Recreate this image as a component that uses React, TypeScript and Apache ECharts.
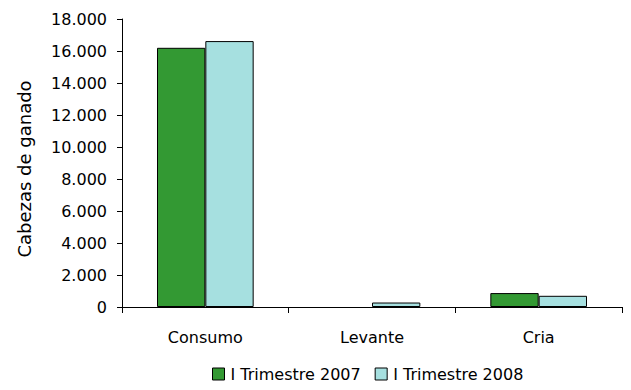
import React, { useEffect, useRef } from "react";
import * as echarts from "echarts";

const categories = ["Consumo", "Levante", "Cria"];
const series2007 = [16200, 0, 870];
const series2008 = [16620, 280, 700];
const seriesNames = ["I Trimestre 2007", "I Trimestre 2008"];
const yAxisName = "Cabezas de ganado";

const fmt = (v: number) => v.toLocaleString("de-DE");

export default function App() {
  const ref = useRef<HTMLDivElement>(null);
  useEffect(() => {
    const chart = echarts.init(ref.current!, null, { renderer: "svg" });
    const font = "DejaVu Sans";
    const toData = (arr: number[]) =>
      arr.map((v) => (v === 0 ? { value: v, itemStyle: { borderWidth: 0 } } : v));
    chart.setOption({
      animation: false,
      grid: { left: 122, right: 9, top: 19, bottom: 83 },
      legend: {
        top: 366,
        left: 212,
        padding: 0,
        itemWidth: 12,
        itemHeight: 12,
        itemGap: 14,
        icon: "rect",
        textStyle: { fontFamily: font, fontSize: 16, color: "#000", padding: [0, 0, 0, 1] },
        data: seriesNames.map((n) => ({ name: n, itemStyle: { borderColor: "#000", borderWidth: 1 } })),
      },
      graphic: [
        {
          type: "text",
          x: 24,
          y: 169,
          rotation: Math.PI / 2,
          style: {
            text: yAxisName,
            fontFamily: font,
            fontSize: 18,
            fill: "#000",
            align: "center",
            verticalAlign: "middle",
          },
        },
      ],
      xAxis: {
        type: "category",
        data: categories,
        axisLine: { lineStyle: { color: "#000", width: 1 } },
        axisTick: { show: true, alignWithLabel: false, length: 6, lineStyle: { color: "#000" } },
        axisLabel: { fontFamily: font, fontSize: 16, color: "#000", margin: 22 },
      },
      yAxis: {
        type: "value",
        min: 0,
        max: 18000,
        interval: 2000,
        axisLine: { show: true, lineStyle: { color: "#000", width: 1 } },
        axisTick: { show: true, inside: false, length: 5, lineStyle: { color: "#000" } },
        splitLine: { show: false },
        axisLabel: { fontFamily: font, fontSize: 16, color: "#000", margin: 15, formatter: (v: number) => fmt(v) },
      },
      series: [
        {
          name: seriesNames[0],
          type: "bar",
          data: toData(series2007),
          barGap: "0%",
          barCategoryGap: "42%",
          itemStyle: { color: "#339933", borderColor: "#000", borderWidth: 1 },
        },
        {
          name: seriesNames[1],
          type: "bar",
          data: toData(series2008),
          itemStyle: { color: "#a6e0e0", borderColor: "#000", borderWidth: 1 },
        },
      ],
    });
    return () => chart.dispose();
  }, []);
  return <div ref={ref} style={{ width: 631, height: 390, margin: -8 }} />;
}
